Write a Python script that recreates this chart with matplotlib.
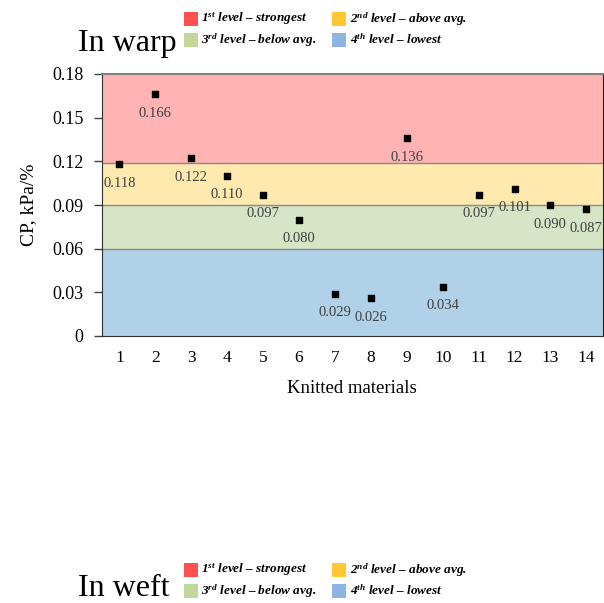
import matplotlib
matplotlib.use("Agg")
import matplotlib.pyplot as plt
from matplotlib.patches import Rectangle

# Data
materials = list(range(1, 15))
cp_warp = [0.118, 0.166, 0.122, 0.110, 0.097, 0.080, 0.029,
           0.026, 0.136, 0.034, 0.097, 0.101, 0.090, 0.087]
y_ticks = [0, 0.03, 0.06, 0.09, 0.12, 0.15, 0.18]
y_tick_labels = ["0", "0.03", "0.06", "0.09", "0.12", "0.15", "0.18"]

# Level bands (lower, upper)
band_limits = [(0.119, 0.18), (0.09, 0.119), (0.06, 0.09), (0.0, 0.06)]
band_colors = ["#FFB3B3", "#FFE9AF", "#D5E5C5", "#B0D1E8"]
legend_colors = ["#FF5050", "#FFC832", "#C4D79B", "#8DB4E2"]
legend_labels = [r"1$^{st}$ level – strongest", r"2$^{nd}$ level – above avg.",
                 r"3$^{rd}$ level – below avg.", r"4$^{th}$ level – lowest"]

plt.rcParams["mathtext.fontset"] = "custom"
plt.rcParams["mathtext.it"] = "Liberation Serif:italic:bold"
plt.rcParams["mathtext.rm"] = "Liberation Serif:italic:bold"

W, H = 604, 603
fig = plt.figure(figsize=(W / 100, H / 100), dpi=100)

ax = fig.add_axes([101.5 / W, 1 - 336 / H, (602.5 - 101.5) / W, (336 - 74) / H])
ax.set_xlim(0.5, 14.45)
ax.set_ylim(0, 0.18)

for (lo, hi), c in zip(band_limits, band_colors):
    ax.axhspan(lo, hi, color=c, lw=0, zorder=0)
for lo, hi in band_limits[:-1]:
    ax.axhline(lo, color="#8a8a8a", lw=1.0, zorder=1)

ax.scatter(materials, cp_warp, marker="s", s=22, color="black", zorder=3)
for x, v in zip(materials, cp_warp):
    ax.annotate(f"{v:.3f}", (x, v), xytext=(0, -19), textcoords="offset pixels",
                ha="center", va="center", fontsize=10.5, color="#404040",
                family="Liberation Serif", zorder=4)

ax.set_xticks(materials)
ax.set_xticklabels([str(m) for m in materials], family="Liberation Serif", fontsize=12.5)
ax.tick_params(axis="x", length=0, pad=10)
ax.set_yticks(y_ticks)
ax.set_yticklabels(y_tick_labels, family="Liberation Serif", fontsize=13)
ax.tick_params(axis="y", length=6, width=1, color="#404040", pad=7)

ax.spines["top"].set_color("#808080")
ax.spines["top"].set_linewidth(1.5)
ax.spines["left"].set_color("#303030")
ax.spines["bottom"].set_color("#303030")
ax.spines["right"].set_color("#202020")
for s in ax.spines.values():
    s.set_zorder(5)

ax.set_xlabel("Knitted materials", family="Liberation Serif", fontsize=13.5, labelpad=10)
ax.set_ylabel("CP, kPa/%", family="Liberation Serif", fontsize=14, labelpad=11)


def draw_legend_block(title, title_baseline, row_tops):
    fig.text(78 / W, 1 - title_baseline / H, title, family="Liberation Serif",
             fontsize=23, ha="left", va="baseline")
    cols = [(184, 201), (332, 350)]
    order = [(0, 0), (0, 1), (1, 0), (1, 1)]
    for (r, c), col, lab in zip(order, legend_colors, legend_labels):
        sx, tx = cols[c]
        top = row_tops[r]
        fig.patches.append(Rectangle((sx / W, 1 - (top + 14) / H), 14 / W, 14 / H,
                                     transform=fig.transFigure, color=col, lw=0))
        fig.text(tx / W, 1 - (top + 7) / H, lab, family="Liberation Serif",
                 style="italic", weight="bold", fontsize=9.5, ha="left", va="center")


draw_legend_block("In warp", 51, [12, 33])
draw_legend_block("In weft", 596, [563, 584])

fig.savefig("out.png", dpi=100)
